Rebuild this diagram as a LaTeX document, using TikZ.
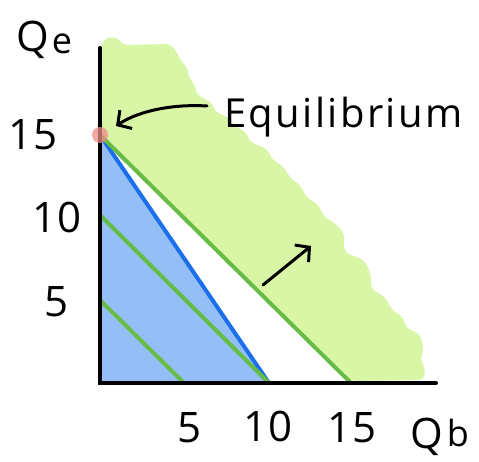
\documentclass[tikz,border=0pt]{standalone}
\usepackage{fontspec}
\setmainfont{Open Sans}
\newfontfamily\spacedfont[LetterSpace=6]{Open Sans}
\usetikzlibrary{arrows.meta}
\definecolor{lime}{HTML}{D9F6A6}
\definecolor{gline}{HTML}{67BC45}
\definecolor{bline}{HTML}{1B6FEA}
\definecolor{bfill}{HTML}{94BFF6}
\definecolor{dotred}{HTML}{EE8C86}
\tikzset{
  axis/.style={line width=4pt, black, line cap=round},
  budget/.style={line width=4pt, gline},
  bluebudget/.style={line width=4pt, bline},
  lbl/.style={inner sep=0pt, font=\fontsize{42}{42}\selectfont},
  sublbl/.style={inner sep=0pt, font=\fontsize{36}{36}\selectfont},
  handarrow/.style={line width=3pt, black, line cap=round, -{Straight Barb[length=10pt,width=22pt,line width=3pt]}},
}
\begin{document}
\begin{tikzpicture}[x=1pt,y=-1pt]
\useasboundingbox (0,0) rectangle (479,462);
% key points
\coordinate (O) at (100,383);
\coordinate (ytop) at (100,48);
\coordinate (xend) at (436,383);
\coordinate (y5) at (100,300);
\coordinate (y10) at (100,215);
\coordinate (y15) at (100,135);
\coordinate (x5) at (184,383);
\coordinate (x10) at (269,383);
\coordinate (x15) at (351,383);
% green region
\fill[lime, rounded corners=5pt] (101,136) -- (101,45) -- (107,37) -- (118,38) -- (123,45) -- (170,44) -- (177,52) -- (180,60) -- (187,67) -- (189,78) -- (195,85) -- (197,95) -- (205,99) -- (213,104) -- (215,112) -- (228,117) -- (236,127) -- (246,132) -- (250,142) -- (267,149) -- (273,160) -- (284,167) -- (290,178) -- (300,185) -- (307,198) -- (318,204) -- (324,217) -- (335,223) -- (344,233) -- (344,252) -- (364,260) -- (371,274) -- (371,289) -- (385,297) -- (392,310) -- (403,317) -- (406,328) -- (420,334) -- (424,350) -- (420,358) -- (425,368) -- (424,380) -- (351,381) -- cycle;
% blue region
\fill[bfill] (y15) -- (x10) -- (O) -- cycle;
% budget lines
\draw[bluebudget] (y15) -- (x10);
\draw[budget] (y5) -- (x5);
\draw[budget] (y10) -- (x10);
\draw[budget] (y15) -- (x15);
% axes
\draw[axis] (ytop) -- (O) -- (xend);
% equilibrium dot
\fill[dotred, opacity=0.75] (y15) circle (8pt);
% labels
\node[lbl] (qe) at (33,40) {Q};
\node[sublbl] (qesub) at (62,44) {e};
\node[lbl] (l15) at (33,135) {15};
\node[lbl] (l10) at (57,217) {10};
\node[lbl] (l5) at (57,302) {5};
\node[lbl] (b5) at (190,428) {5};
\node[lbl] (b10) at (268,426) {10};
\node[lbl] (b15) at (352,428) {15};
\node[lbl] (qb) at (427,437) {Q};
\node[sublbl] (qbsub) at (458,433) {b};
\node[inner sep=0pt, anchor=base west, font=\spacedfont\fontsize{40}{40}\selectfont] (eq) at (224,128) {Equilibrium};
% arrows
\coordinate (eqtip) at (116,126);
\coordinate (eqstart) at (207,106);
\draw[handarrow] (eqstart) .. controls (175,104) and (140,110) .. (eqtip);
\coordinate (shiftA) at (263,285);
\coordinate (shiftB) at (311,246);
\draw[handarrow] (shiftA) -- (shiftB);
\end{tikzpicture}
\end{document}
